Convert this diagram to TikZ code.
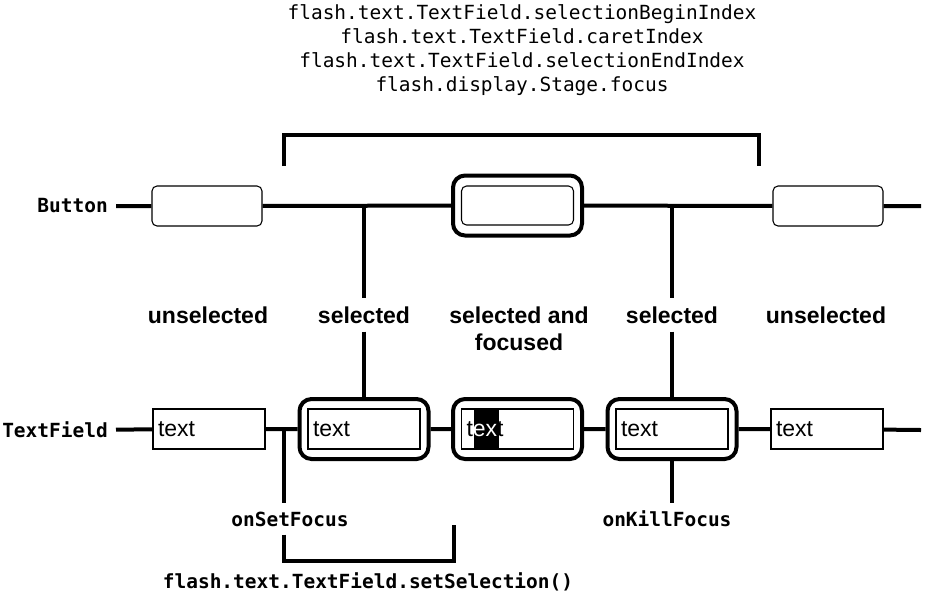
\documentclass[tikz,border=0pt]{standalone}
\usepackage{fontspec}
\setsansfont{Liberation Sans}
\setmonofont{DejaVu Sans Mono}
\usepackage{tikz}
\usetikzlibrary{positioning}
\tikzset{
  focus-wire/.style={line width=3pt},
  focus-stub/.style={line width=2.5pt},
  focus-button/.style={draw, fill=white, rounded corners=3.75pt, line width=0.8pt,
    minimum width=82.5pt, minimum height=30pt, inner sep=0pt},
  focus-frame/.style={draw, fill=white, rounded corners=9pt, line width=3pt,
    minimum width=96.75pt, minimum height=45pt, inner sep=0pt},
  focus-field/.style={draw, fill=white, line width=0.8pt, text width=76.5pt, align=left,
    minimum height=30pt, inner xsep=3.75pt, inner ysep=0pt,
    font=\sffamily\fontsize{17.25}{20}\selectfont},
  focus-state/.style={align=center, inner sep=6pt,
    font=\sffamily\bfseries\fontsize{17.25}{20.25}\selectfont},
  focus-axis/.style={inner sep=6pt, font=\ttfamily\bfseries\fontsize{14.6}{18}\selectfont},
  focus-api/.style={align=center, inner sep=6pt, font=\ttfamily\fontsize{14.6}{18}\selectfont}
}

\begin{document}
\begin{tikzpicture}[x=0.75pt, y=-0.75pt]
  \useasboundingbox (0,0) rectangle (931,601);

  \node[focus-api] (props) at (522,50)
    {flash.text.TextField.selectionBeginIndex\\flash.text.TextField.caretIndex\\
     flash.text.TextField.selectionEndIndex\\flash.display.Stage.focus};
  \coordinate (props-l) at (284,166);
  \coordinate (props-r) at (759,166);
  \draw[focus-stub] (props-l) -- ++(0,-31) -| (props-r);

  \node[focus-axis, anchor=east] (btn-lbl) at (116,206) {Button};
  \node[focus-button] (btn1) at (207,206) {};
  \node[focus-frame] (btn2) at (517.5,205.5) {};
  \node[focus-button, minimum width=84pt, minimum height=29.25pt] (btn2in) at (btn2) {};
  \node[focus-button] (btn3) at (828,206) {};
  \coordinate (btn-end) at (921,206);
  \draw[focus-wire] (btn-lbl) -- (btn1) (btn1) -- (btn2) (btn2) -- (btn3) (btn3) -- (btn-end);

  \node[focus-state] (unsel1) at (208,315) {unselected};
  \node[focus-state] (sel1) at (364,315) {selected};
  \node[focus-state] (selfoc) at (519,328.5) {selected and\\focused};
  \node[focus-state] (sel2) at (672,315) {selected};
  \node[focus-state] (unsel2) at (826,315) {unselected};

  \node[focus-axis, anchor=east] (tf-lbl) at (116,430) {TextField};
  \node[focus-field] (tf1) at (209,429) {text};
  \node[focus-frame] (tf2) at (364,429) {};
  \node[focus-field] (tf2in) at (tf2) {text};
  \node[focus-frame] (tf3) at (517.5,429) {};
  \node[focus-field, path picture={
      \fill[black] ([xshift=9pt]path picture bounding box.north west)
        rectangle ([xshift=27.75pt]path picture bounding box.south west);}]
    (tf3in) at (tf3) {t\textcolor{white}{ex}t};
  \node[focus-frame] (tf4) at (672,429) {};
  \node[focus-field] (tf4in) at (tf4) {text};
  \node[focus-field] (tf5) at (827,429) {text};
  \coordinate (tf-end) at (921,430);
  \draw[focus-wire] (tf-lbl) -- (tf1) (tf1) -- (tf2) (tf2) -- (tf3) (tf3) -- (tf4)
    (tf4) -- (tf5) (tf5) -- (tf-end);

  \coordinate (j1) at (364,206);
  \coordinate (j2) at (672,206);
  \draw[focus-stub] (j1) -- (sel1) (sel1) -- (tf2);
  \draw[focus-stub] (j2) -- (sel2) (sel2) -- (tf4);

  \node[focus-axis] (setf) at (290,519) {onSetFocus};
  \node[focus-axis] (killf) at (667,519) {onKillFocus};
  \node[focus-axis] (setsel) at (368,582) {flash.text.TextField.setSelection()};
  \coordinate (f1) at (284,430);
  \coordinate (sel-corner) at (284,561);
  \coordinate (sel-end) at (454,525);
  \draw[focus-stub] (f1) -- (f1 |- setf.north);
  \draw[focus-stub] (setf.south -| sel-corner) -- (sel-corner) -| (sel-end);
  \draw[focus-stub] (tf4.south) -- (tf4.south |- killf.north);
\end{tikzpicture}
\end{document}
